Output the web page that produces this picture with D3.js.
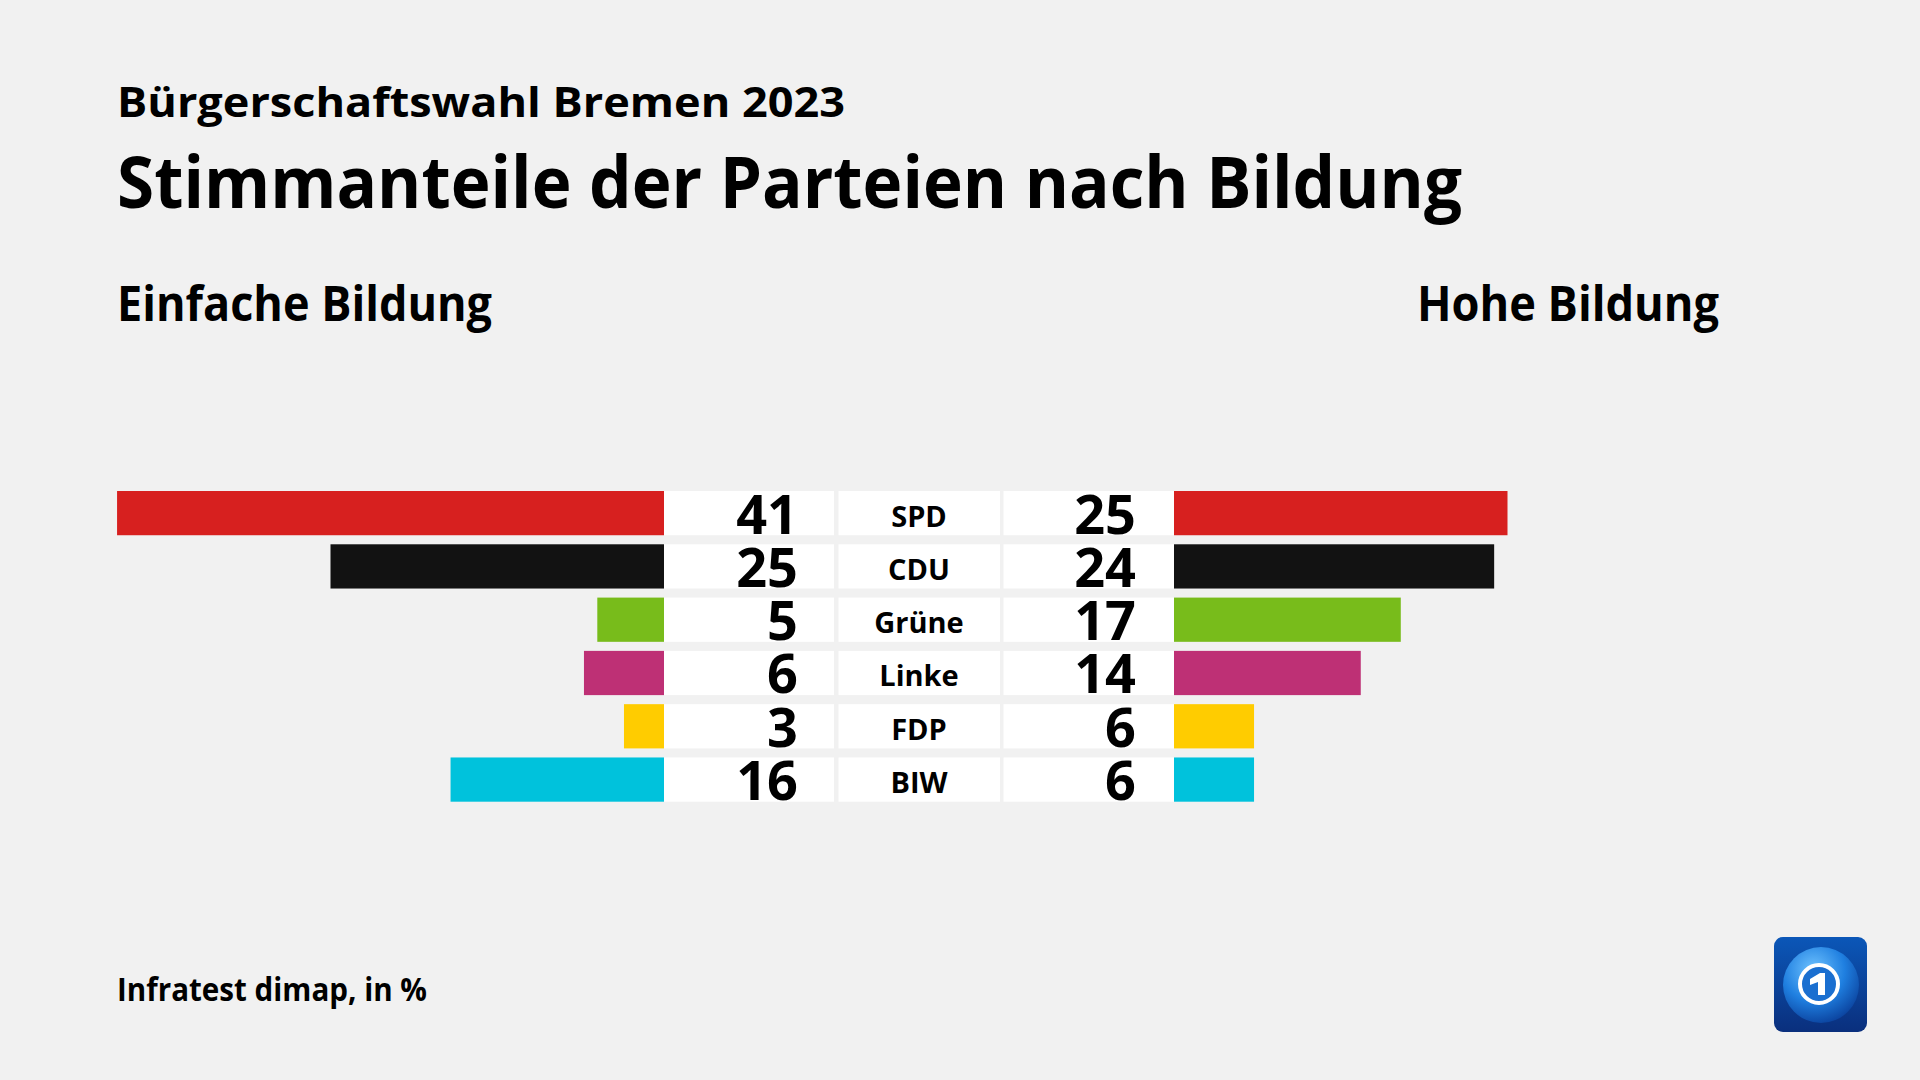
<!DOCTYPE html>
<html>
<head>
<meta charset="utf-8">
<script src="https://cdn.jsdelivr.net/npm/d3@7"></script>
<style>
  html, body { margin: 0; padding: 0; background: #f1f1f1; }
  svg { display: block; }
  text { font-family: "Open Sans", "Noto Sans", sans-serif; font-weight: 700; fill: #000; }
</style>
</head>
<body>
<svg id="chart" width="1920" height="1080"></svg>
<script>
// ---- data ----
const parties = ["SPD", "CDU", "Grüne", "Linke", "FDP", "BIW"];
const einfacheBildung = [41, 25, 5, 6, 3, 16];
const hoheBildung = [25, 24, 17, 14, 6, 6];
const partyColors = ["#d7201f", "#121212", "#78bc1b", "#be3075", "#ffcc00", "#00c2dc"];
const texts = {
  subtitle: "Bürgerschaftswahl Bremen 2023",
  title: "Stimmanteile der Parteien nach Bildung",
  left: "Einfache Bildung",
  right: "Hohe Bildung",
  source: "Infratest dimap, in %"
};

const rows = parties.map((p, i) => ({ party: p, left: einfacheBildung[i], right: hoheBildung[i], color: partyColors[i] }));

const svg = d3.select("#chart");
svg.append("rect").attr("width", 1920).attr("height", 1080).attr("fill", "#f1f1f1");

// fit text horizontally to a target width (reference font is narrower)
function fit(sel, w) {
  const n = sel.node().getComputedTextLength();
  if (Math.abs(n - w) / w > 0.01) sel.attr("textLength", w).attr("lengthAdjust", "spacingAndGlyphs");
  return sel;
}

// ---- titles ----
fit(svg.append("text").attr("x", 117).attr("y", 117).attr("font-size", 42).text(texts.subtitle), 728);
fit(svg.append("text").attr("x", 117).attr("y", 208).attr("font-size", 71).text(texts.title), 1345);
fit(svg.append("text").attr("x", 117).attr("y", 321).attr("font-size", 48).text(texts.left), 375);
fit(svg.append("text").attr("x", 1719).attr("y", 321).attr("font-size", 48).attr("text-anchor", "end").text(texts.right), 302);
fit(svg.append("text").attr("x", 117).attr("y", 1001).attr("font-size", 33).text(texts.source), 310);

// ---- scales ----
const y = d3.scaleBand().domain(parties).range([491, 801.7]).paddingInner(0.17).paddingOuter(0);
const xLeft = d3.scaleLinear().domain([0, 100]).range([664, 664 - 1334]);
const xRight = d3.scaleLinear().domain([0, 100]).range([1174, 1174 + 1334]);

const g = svg.append("g");
const row = g.selectAll("g.row").data(rows).join("g").attr("class", "row")
  .attr("transform", d => `translate(0,${y(d.party)})`);
const bh = y.bandwidth();

// white boxes
row.append("rect").attr("x", 664).attr("width", 170).attr("height", bh).attr("fill", "#fff");
row.append("rect").attr("x", 838.5).attr("width", 161.5).attr("height", bh).attr("fill", "#fff");
row.append("rect").attr("x", 1003.5).attr("width", 170.5).attr("height", bh).attr("fill", "#fff");

// bars
row.append("rect").attr("x", d => xLeft(d.left)).attr("width", d => xLeft(0) - xLeft(d.left))
  .attr("height", bh).attr("fill", d => d.color);
row.append("rect").attr("x", xRight(0)).attr("width", d => xRight(d.right) - xRight(0))
  .attr("height", bh).attr("fill", d => d.color);

// values
row.append("text").attr("x", 798).attr("y", 42.5).attr("font-size", 54).attr("text-anchor", "end")
  .text(d => d.left);
row.append("text").attr("x", 1136).attr("y", 42.5).attr("font-size", 54).attr("text-anchor", "end")
  .text(d => d.right);
// labels
row.append("text").attr("x", 919).attr("y", 35.5).attr("font-size", 29).attr("text-anchor", "middle")
  .text(d => d.party);

// ---- logo ----
const defs = svg.append("defs");
const lg = defs.append("linearGradient").attr("id", "bg").attr("x1", 0).attr("y1", 0).attr("x2", 0).attr("y2", 1);
lg.append("stop").attr("offset", 0).attr("stop-color", "#0b57b8");
lg.append("stop").attr("offset", 1).attr("stop-color", "#0a2f7d");
const rg = defs.append("radialGradient").attr("id", "globe").attr("cx", 0.4).attr("cy", 0.3).attr("r", 0.75);
rg.append("stop").attr("offset", 0).attr("stop-color", "#6fc3ff");
rg.append("stop").attr("offset", 0.55).attr("stop-color", "#1f7fe0");
rg.append("stop").attr("offset", 1).attr("stop-color", "#0a3f9a");
const logo = svg.append("g").attr("transform", "translate(1774,937)");
logo.append("rect").attr("width", 93).attr("height", 95).attr("rx", 9).attr("fill", "url(#bg)");
logo.append("circle").attr("cx", 47).attr("cy", 48).attr("r", 38).attr("fill", "url(#globe)");
logo.append("circle").attr("cx", 45).attr("cy", 47).attr("r", 19).attr("fill", "#1a6fd0")
  .attr("stroke", "#fff").attr("stroke-width", 4);
logo.append("path").attr("d", "M36,42 L46,36 L51,36 L51,58 L44,58 L44,45 L36,48 Z").attr("fill", "#fff");
</script>
</body>
</html>
